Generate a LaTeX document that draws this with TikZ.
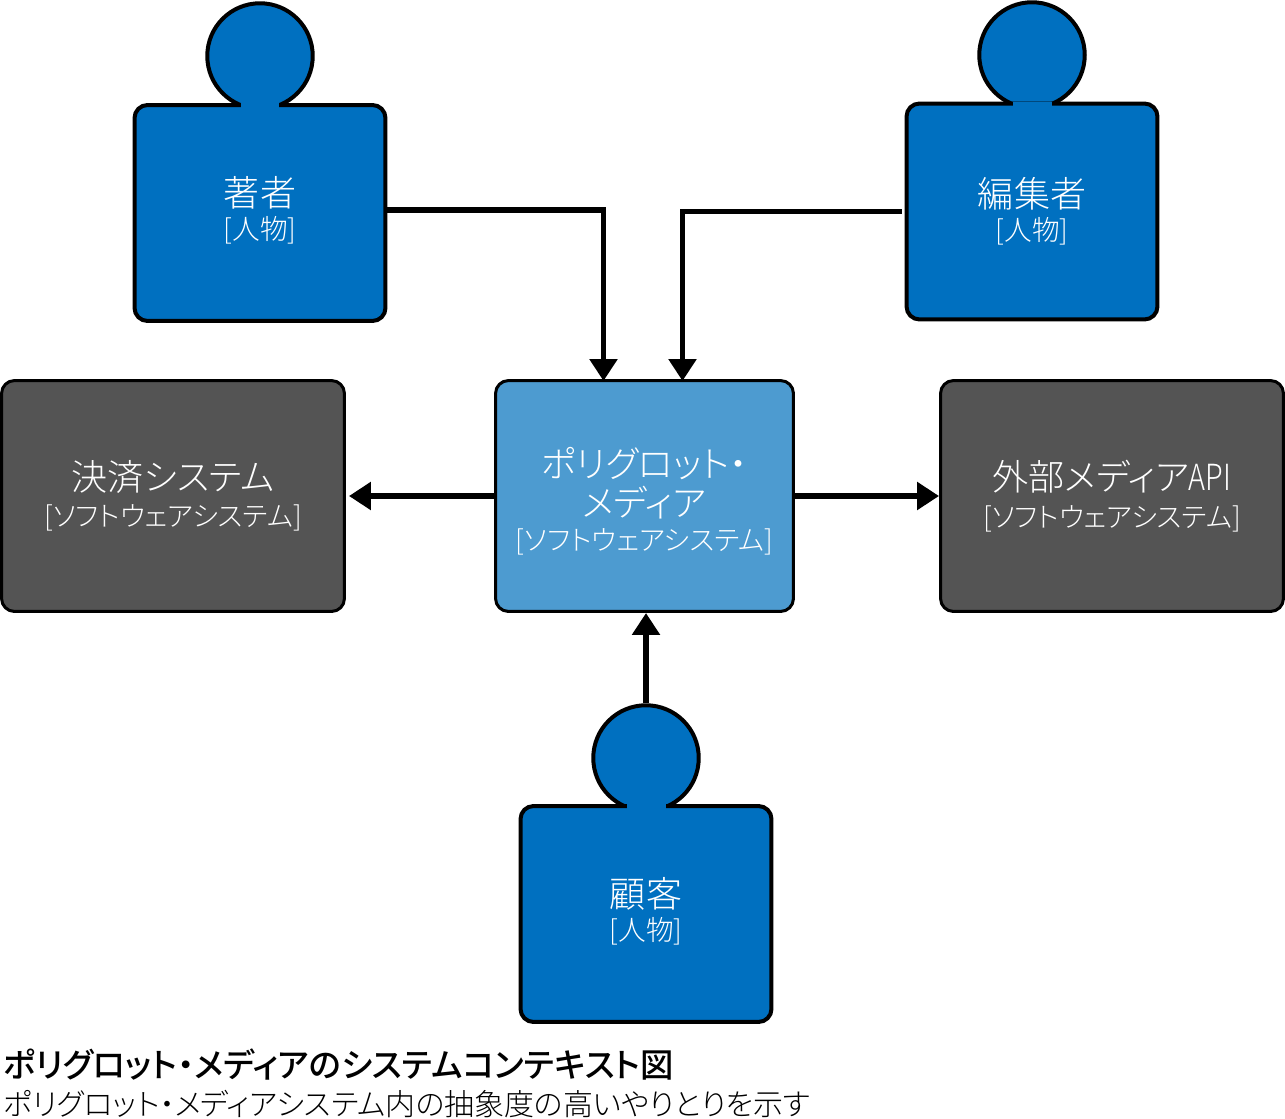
\documentclass[tikz,border=0pt]{standalone}
\usepackage{fontspec}
\setmainfont{Noto Sans CJK JP}[UprightFont=* Light, BoldFont=* Medium, RawFeature=+palt]
\usepackage{tikz}
\usetikzlibrary{arrows.meta,positioning}

\definecolor{personblue}{HTML}{0070C0}
\definecolor{hubblue}{HTML}{4D9BD0}
\definecolor{extgray}{HTML}{545454}
\newcommand{\namefont}{\fontsize{20.5pt}{23.5pt}\selectfont}
\newcommand{\tagfont}{\fontsize{15.75pt}{18pt}\selectfont}

\begin{document}
\begin{tikzpicture}[
  x=0.02cm, y=-0.02cm,
  font=\namefont,
  body/.style={draw, line width=0.08cm, rounded corners=0.26cm, fill=personblue, text=white, minimum width=5.02cm, minimum height=4.32cm, align=center},
  head/.style={circle, draw, line width=0.08cm, fill=personblue, minimum size=2.11cm, inner sep=0pt},
  neck/.style={fill=personblue, minimum width=0.78cm, minimum height=0.1cm, inner sep=0pt},
  hub/.style={draw, line width=0.06cm, rounded corners=0.26cm, fill=hubblue, text=white, minimum width=5.96cm, minimum height=4.62cm, align=center},
  ext/.style={draw, line width=0.06cm, rounded corners=0.26cm, fill=extgray, text=white, minimum width=6.86cm, minimum height=4.62cm, align=center},
  flow/.style={-{Triangle[length=0.44cm, width=0.54cm]}, line width=0.115cm},
  caption/.style={anchor=west, inner sep=0pt}
]
\useasboundingbox (0,0) rectangle (1285,1119);

\node[head] (authorhead) at (260,56) {};
\node[body] (author) at (260,213) {著者\\[-0.16cm]{\tagfont [人物]\rule[-0.2cm]{0pt}{0pt}}};
\node[neck] at (260,105.5) (authorneck) {};

\node[head] (editorhead) at (1032,55) {};
\node[body] (editor) at (1032,211.5) {編集者\\[-0.16cm]{\tagfont [人物]}};
\node[neck] at (1032,104) (editorneck) {};

\node[head] (customerhead) at (646,758) {};
\node[body] (customer) at (646,914) {顧客\\[-0.16cm]{\tagfont [人物]\rule[-0.2cm]{0pt}{0pt}}};
\node[neck] at (646,806.5) (customerneck) {};

\node[hub] (media) at (644.5,496) {\rule{0pt}{0.82cm}ポリグロット・\\[-0.04cm]メディア\\[-0.14cm]{\tagfont [ソフトウェアシステム]}};
\node[ext] (payment) at (173,496) {決済システム\\[-0.1cm]{\tagfont [ソフトウェアシステム]}};
\node[ext] (api) at (1112,496) {外部メディア\scalebox{0.8}[1]{API}\\[-0.1cm]{\tagfont [ソフトウェアシステム]}};

\coordinate (authorin) at (603.5,381);
\coordinate (editorin) at (682.5,381);
\draw[flow] ([yshift=0.06cm]author.east) -| (authorin);
\draw[flow, shorten <=0.06cm] (editor.west) -| (editorin);
\draw[flow, shorten >=0.06cm] (media.west) -- (payment.east);
\draw[flow] (media.east) -- (api.west);
\draw[flow] (customerhead.north) -- (media.south -| customerhead.north);

\node[caption] (title) at (3,1065) {\fontsize{19pt}{20pt}\selectfont\bfseries ポリグロット・メディアのシステムコンテキスト図};
\node[caption] (subtitle) at (3,1104) {\fontsize{17.05pt}{20pt}\selectfont ポリグロット・メディアシステム内の抽象度の高いやりとりを示す};
\end{tikzpicture}
\end{document}
